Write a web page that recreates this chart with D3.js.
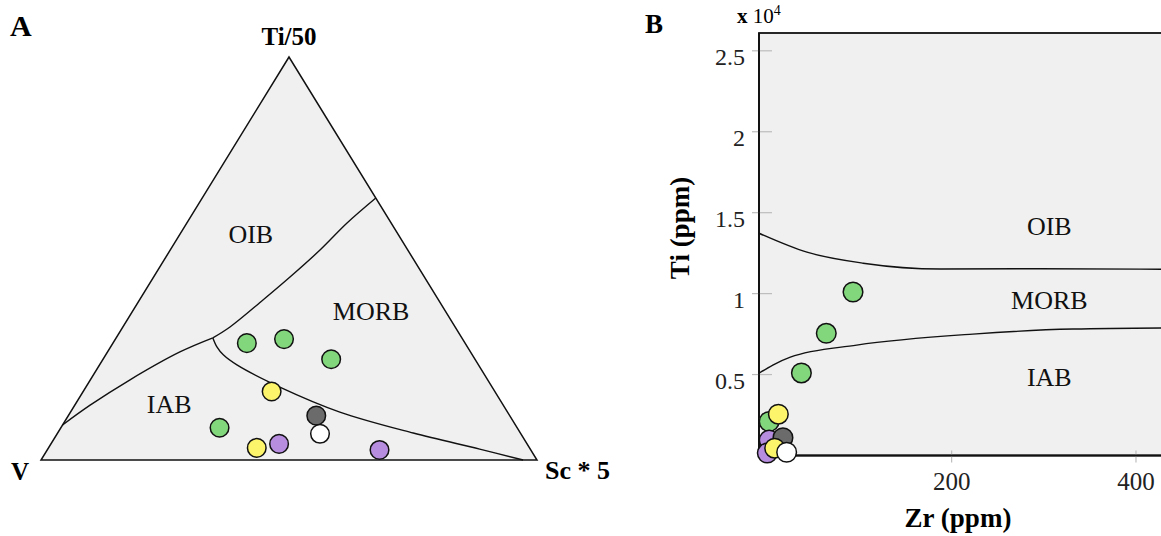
<!DOCTYPE html>
<html>
<head>
<meta charset="utf-8">
<script src="https://cdn.jsdelivr.net/npm/d3@7"></script>
<style>
  html, body { margin: 0; padding: 0; background: #fff; }
  svg { display: block; font-family: "Liberation Serif", "Times New Roman", serif; }
</style>
</head>
<body>
<svg id="fig" width="1161" height="536"></svg>
<script>
// ---- Sample groups (drawing order) ----
const sampleGroup = ["green", "green", "green", "green", "purple", "purple", "gray", "yellow", "yellow", "white"];
const groupFill = { green: "#82d67c", purple: "#b78de0", gray: "#6b6b6b", yellow: "#fcf46a", white: "#ffffff" };

// ---- Panel A: Ti/50 – V – Sc*5 ternary compositions (%) ----
const tiPct = [29, 30, 25, 8, 4, 2.5, 11, 17, 3, 6.5];
const vPct  = [44, 36, 29, 60, 50, 30.5, 39, 45, 55, 40.5];
const scPct = [27, 34, 46, 32, 46, 67, 50, 38, 42, 53];

// Field boundaries as [Ti, V, Sc] %
const oibMorb = [[65, 0, 35], [58.8, 8.9, 32.3], [52.1, 17.7, 30.2], [45.4, 27.1, 27.5], [39.7, 35.4, 24.9], [33, 45.4, 21.6], [30.3, 50.2, 19.5]];
const oibIab  = [[30.3, 50.2, 19.5], [26.8, 58.6, 14.6], [19.9, 72.1, 8], [13.6, 83.3, 3.1], [8.7, 91.3, 0]];
const morbIab = [[30.3, 50.2, 19.5], [28, 50.5, 21.5], [26.1, 50.2, 23.7], [23.6, 48.7, 27.7], [18.1, 42.8, 39.1], [11.9, 33.8, 54.3], [6.7, 21.6, 71.7], [2.7, 10.2, 87.1], [0, 2.8, 97.2]];

const ternaryApexLabels = ["Ti/50", "V", "Sc * 5"];
// field name and the [Ti, V, Sc] % where its baseline centre sits
const ternaryFieldLabels = [["OIB", 53.8, 30.8, 15.4], ["MORB", 34.7, 16.1, 49.2], ["IAB", 11.7, 68.3, 20]];

// ---- Panel B: Ti vs Zr (ppm) ----
const zrPpm = [93, 64, 37, 2, 2, 0, 17, 12, 8, 21];
const tiPpm = [10100, 7550, 5100, 2100, 950, 150, 1100, 2550, 450, 200];

const upperZr = [-9, 43, 104, 188, 296, 440];
const upperTi = [13730, 12560, 11880, 11520, 11540, 11500];
const lowerZr = [-9, 6, 25, 97, 223, 332, 440];
const lowerTi = [5080, 5590, 6080, 6820, 7500, 7810, 7880];

const yTicks = [5000, 10000, 15000, 20000, 25000];
const xTicks = [200, 400];
const fieldLabelsB = [["OIB", 306, 13620], ["MORB", 306, 9050], ["IAB", 306, 4290]];

const svg = d3.select("#fig");
const bold = "bold";

// ================= Panel A =================
const tx = d3.scaleLinear().domain([0, 1]).range([41, 537]);
const ty = d3.scaleLinear().domain([0, 1]).range([460, 57]);
function tern(ti, v, sc) {
  const s = ti + v + sc;
  const a = ti / s, c = sc / s;
  return [tx(c + a / 2), ty(a)];
}
const gA = svg.append("g");
const apex = [tern(100, 0, 0), tern(0, 100, 0), tern(0, 0, 100)];
gA.append("path")
  .attr("d", d3.line()([apex[0], apex[1], apex[2]]) + "Z")
  .attr("fill", "#f0f0f0").attr("stroke", "#111").attr("stroke-width", 1.5)
  .attr("stroke-linejoin", "miter");

const ternLine = d3.line().curve(d3.curveCatmullRom.alpha(0.5));
[oibMorb, oibIab, morbIab].forEach(b => {
  gA.append("path")
    .attr("d", ternLine(b.map(p => tern(p[0], p[1], p[2]))))
    .attr("fill", "none").attr("stroke", "#111").attr("stroke-width", 1.4);
});

ternaryFieldLabels.forEach(([t, a, b, c]) => {
  const p = tern(a, b, c);
  gA.append("text").attr("x", p[0]).attr("y", p[1]).attr("text-anchor", "middle")
    .attr("font-size", 26).attr("fill", "#111").text(t);
});

sampleGroup.forEach((g, i) => {
  const p = tern(tiPct[i], vPct[i], scPct[i]);
  gA.append("circle").attr("cx", p[0]).attr("cy", p[1]).attr("r", 9.3)
    .attr("fill", groupFill[g]).attr("stroke", "#111").attr("stroke-width", 1.5);
});

gA.append("text").attr("x", apex[0][0]).attr("y", 45).attr("text-anchor", "middle")
  .attr("font-size", 25).attr("font-weight", bold).text(ternaryApexLabels[0]);
gA.append("text").attr("x", 11).attr("y", 480)
  .attr("font-size", 25).attr("font-weight", bold).text(ternaryApexLabels[1]);
gA.append("text").attr("x", 545).attr("y", 479)
  .attr("font-size", 26).attr("font-weight", bold).text(ternaryApexLabels[2]);
svg.append("text").attr("x", 10).attr("y", 36).attr("font-size", 30).attr("font-weight", bold).text("A");

// ================= Panel B =================
const x = d3.scaleLinear().domain([-9, 450]).range([759, 759 + 459 * 0.9217]);
const y = d3.scaleLinear().domain([0, 26100]).range([455.5, 33]);
const gB = svg.append("g");

gB.append("rect").attr("x", x(-9)).attr("y", y(26100))
  .attr("width", x(450) - x(-9) + 20).attr("height", y(0) - y(26100))
  .attr("fill", "#f0f0f0").attr("stroke", "#111").attr("stroke-width", 1.8);

// ticks crossing the frame
gB.selectAll("line.yt").data(yTicks).join("line")
  .attr("x1", x(-9) - 7).attr("x2", x(-9) + 13)
  .attr("y1", d => y(d)).attr("y2", d => y(d))
  .attr("stroke", "#bdbdbd").attr("stroke-width", 1.2);
gB.selectAll("line.xt").data(xTicks).join("line")
  .attr("x1", d => x(d)).attr("x2", d => x(d))
  .attr("y1", y(0) - 5).attr("y2", y(0) + 7)
  .attr("stroke", "#bdbdbd").attr("stroke-width", 1.2);
// frame edges over the tick stubs
gB.append("line").attr("x1", x(-9)).attr("x2", x(-9)).attr("y1", y(26100)).attr("y2", y(0))
  .attr("stroke", "#111").attr("stroke-width", 1.8);
gB.append("line").attr("x1", x(-9)).attr("x2", 1161).attr("y1", y(0)).attr("y2", y(0))
  .attr("stroke", "#111").attr("stroke-width", 1.8);

gB.selectAll("text.yl").data(yTicks).join("text")
  .attr("x", 745).attr("y", d => y(d) + 14).attr("text-anchor", "end")
  .attr("font-size", 24).attr("fill", "#222").text(d => d3.format("")(d / 1e4));
gB.selectAll("text.xl").data(xTicks).join("text")
  .attr("x", d => x(d)).attr("y", 490).attr("text-anchor", "middle")
  .attr("font-size", 25).attr("fill", "#222").text(d => d);

const bLine = d3.line().curve(d3.curveMonotoneX);
gB.append("path").attr("d", bLine(upperZr.map((z, i) => [x(z), y(upperTi[i])])))
  .attr("fill", "none").attr("stroke", "#111").attr("stroke-width", 1.4);
gB.append("path").attr("d", bLine(lowerZr.map((z, i) => [x(z), y(lowerTi[i])])))
  .attr("fill", "none").attr("stroke", "#111").attr("stroke-width", 1.4);

fieldLabelsB.forEach(([t, z, ti]) => {
  gB.append("text").attr("x", x(z)).attr("y", y(ti)).attr("text-anchor", "middle")
    .attr("font-size", 26).attr("fill", "#111").text(t);
});

sampleGroup.forEach((g, i) => {
  gB.append("circle").attr("cx", x(zrPpm[i])).attr("cy", y(tiPpm[i])).attr("r", 9.8)
    .attr("fill", groupFill[g]).attr("stroke", "#111").attr("stroke-width", 1.5);
});

// axis titles
const ex = gB.append("text").attr("x", 737).attr("y", 23).attr("font-size", 21);
ex.append("tspan").attr("font-weight", bold).text("x ");
ex.append("tspan").text("10");
ex.append("tspan").attr("font-size", 14).attr("dy", -8).text("4");

gB.append("text").attr("transform", "translate(689,228) rotate(-90)")
  .attr("text-anchor", "middle").attr("font-size", 27).attr("font-weight", bold).text("Ti (ppm)");
gB.append("text").attr("x", 958).attr("y", 527).attr("text-anchor", "middle")
  .attr("font-size", 27).attr("font-weight", bold).text("Zr (ppm)");
svg.append("text").attr("x", 645).attr("y", 33).attr("font-size", 27).attr("font-weight", bold).text("B");
</script>
</body>
</html>
